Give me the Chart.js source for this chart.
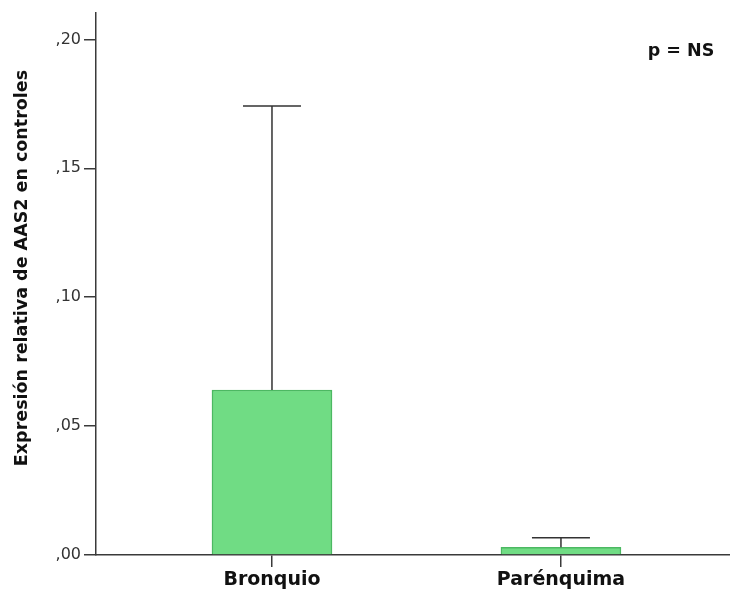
<!DOCTYPE html>
<html>
<head>
<meta charset="utf-8">
<script src="https://cdn.jsdelivr.net/npm/chart.js@4/dist/chart.umd.min.js"></script>
<style>
  html, body { margin: 0; padding: 0; background: #fff; }
  #wrap { width: 730px; height: 598px; position: relative; }
</style>
</head>
<body>
<div id="wrap"><canvas id="c" width="730" height="598"></canvas></div>
<script>
// Relative AAS2 expression in control tissue
const categories = ['Bronquio', 'Parénquima'];
const means = [0.0640, 0.0030];
const errUpper = [0.1742, 0.0067];
const yTickValues = [0, 0.05, 0.10, 0.15, 0.20];
const yTickLabels = [',00', ',05', ',10', ',15', ',20'];
const yTitle = 'Expresión relativa de AAS2 en controles';
const note = 'p = NS';

const FONT = '"DejaVu Sans", sans-serif';
const AXIS_COLOR = '#3a3a3a';

const points = categories.map((c, i) => ({ x: i + 1, y: means[i] }));

// Whiskers with caps above each bar
const errorBars = {
  id: 'errorBars',
  afterDatasetsDraw(chart) {
    const ctx = chart.ctx;
    const xs = chart.scales.x, ys = chart.scales.y;
    ctx.save();
    ctx.strokeStyle = '#333';
    ctx.lineWidth = 1.5;
    categories.forEach((c, i) => {
      const x = xs.getPixelForValue(i + 1);
      const y0 = ys.getPixelForValue(means[i]);
      const y1 = ys.getPixelForValue(errUpper[i]);
      ctx.beginPath();
      ctx.moveTo(x, y0);
      ctx.lineTo(x, y1);
      ctx.moveTo(x - 29, y1);
      ctx.lineTo(x + 29, y1);
      ctx.stroke();
    });
    ctx.restore();
  }
};

// Rotated value-axis title and the significance note
const texts = {
  id: 'texts',
  afterDraw(chart) {
    const ctx = chart.ctx;
    ctx.save();
    ctx.fillStyle = '#111';
    ctx.font = 'bold 17.5px ' + FONT;
    ctx.textAlign = 'center';
    ctx.textBaseline = 'middle';
    ctx.translate(22, 268);
    ctx.rotate(-Math.PI / 2);
    ctx.fillText(yTitle, 0, 0);
    ctx.restore();

    ctx.save();
    ctx.fillStyle = '#111';
    ctx.font = 'bold 17.5px ' + FONT;
    ctx.textAlign = 'center';
    ctx.textBaseline = 'middle';
    ctx.fillText(note, 681, 51);
    ctx.restore();
  }
};

new Chart(document.getElementById('c'), {
  type: 'bar',
  data: {
    datasets: [{
      data: points,
      backgroundColor: '#70dc84',
      borderColor: '#4cb862',
      borderWidth: 1.5,
      borderSkipped: 'bottom',
      barThickness: 120
    }]
  },
  options: {
    responsive: false,
    animation: false,
    layout: { padding: { top: 10, right: 0, left: 0, bottom: 0 } },
    plugins: {
      legend: { display: false },
      tooltip: { enabled: false },
      title: { display: false }
    },
    scales: {
      x: {
        type: 'linear',
        offset: false,
        min: 0.391,
        max: 2.585,
        afterBuildTicks(scale) {
          scale.ticks = categories.map((c, i) => ({ value: i + 1 }));
        },
        afterFit(scale) { scale.height = 43; },
        ticks: {
          autoSkip: false,
          maxRotation: 0,
          padding: 2,
          color: '#111',
          font: { family: FONT, size: 19, weight: 'bold' },
          callback: (v) => categories[Math.round(v) - 1]
        },
        grid: {
          offset: false,
          drawOnChartArea: false,
          drawTicks: true,
          tickLength: 12,
          color: AXIS_COLOR,
          lineWidth: 1.5
        },
        border: { display: true, color: AXIS_COLOR, width: 1.5 }
      },
      y: {
        type: 'linear',
        min: 0,
        max: 0.2104,
        afterBuildTicks(scale) {
          scale.ticks = yTickValues.map(v => ({ value: v }));
        },
        afterFit(scale) { scale.width = 96; },
        ticks: {
          padding: 3,
          color: '#333',
          font: { family: FONT, size: 16 },
          callback: (v) => {
            const i = yTickValues.findIndex(t => Math.abs(t - v) < 1e-9);
            return i >= 0 ? yTickLabels[i] : '';
          }
        },
        grid: {
          drawOnChartArea: false,
          drawTicks: true,
          tickLength: 12,
          color: AXIS_COLOR,
          lineWidth: 1.5
        },
        border: { display: true, color: AXIS_COLOR, width: 1.5 }
      }
    }
  },
  plugins: [errorBars, texts]
});
</script>
</body>
</html>
